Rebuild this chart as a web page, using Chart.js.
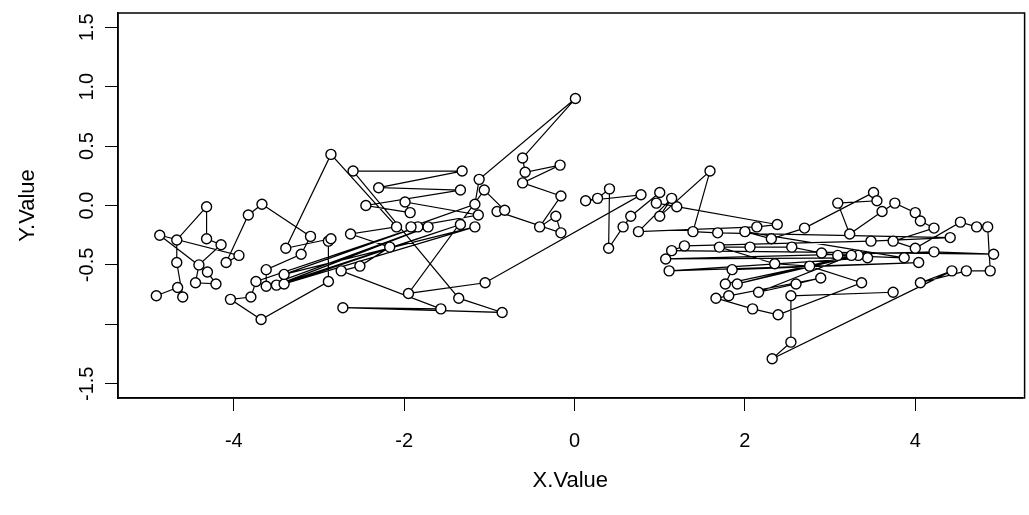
<!DOCTYPE html>
<html>
<head>
<meta charset="utf-8">
<script src="https://cdn.jsdelivr.net/npm/chart.js@4/dist/chart.umd.min.js"></script>
<style>
  html, body { margin: 0; padding: 0; background: #fff; }
  canvas { display: block; }
</style>
</head>
<body>
<canvas id="plot" width="1029" height="515"></canvas>
<script>
// values in the order they were plotted (lines join consecutive points)
const xValues = [
  -4.91, -4.66, -4.60, -4.67, -4.67, -4.32, -4.32, -4.15, -4.41, -4.45,
  -4.21, -4.31, -4.87, -3.94, -4.09, -3.83, -3.67, -3.10, -3.21, -3.62,
  -3.62, -1.72, -3.50, -1.34, -3.41, -1.17, -3.41, -1.84, -3.74, -3.80,
  -4.04, -3.68, -2.89, -2.89, -2.86, -3.39, -2.86, -2.09, -2.63, -2.17,
  -2.52, -2.74, -1.57, -2.72, -0.85, -1.36, -2.60, -1.32, -2.30, -1.34,
  -2.45, -1.93, -1.99, -1.13, -1.92, -1.17, -1.12, 0.01, -0.61, -0.58,
  -0.17, -0.61, -0.16, -0.41, -0.22, -0.16, -0.91, -0.82, -1.06, -1.95,
  -1.05,
  0.78, 0.13, 0.27, 0.41, 0.40, 0.57, 0.66, 1.00, 0.96, 1.20,
  2.38, 2.14, 0.75, 1.14, 1.00, 1.59, 1.39, 1.68, 4.41, 3.48,
  1.29, 1.14, 4.92, 4.22, 1.07, 3.44, 1.11, 4.04, 1.85, 1.77,
  3.33, 1.91, 3.25, 2.16, 2.60, 2.89, 1.81, 1.66, 2.09, 2.39,
  3.37, 2.76, 2.35, 1.70, 2.06, 2.55, 2.90, 3.09, 3.87, 2.00,
  2.31, 2.70, 3.51, 3.55, 3.09, 3.23, 3.61, 3.76, 4.00, 4.06,
  4.22, 3.74, 4.00, 4.53, 4.72, 4.85, 4.88, 4.60, 4.06, 4.43,
  2.32, 2.54, 2.54, 3.74
];
const yValues = [
  -0.76, -0.69, -0.77, -0.48, -0.29, -0.01, -0.28, -0.33, -0.50, -0.65,
  -0.66, -0.56, -0.25, -0.42, -0.48, -0.08, 0.01, -0.26, -0.41, -0.54,
  -0.68, -0.18, -0.67, -0.16, -0.66, -0.18, -0.58, -0.18, -0.64, -0.77,
  -0.79, -0.96, -0.64, -0.30, -0.28, -0.36, 0.43, -0.18, -0.24, -0.35,
  -0.51, -0.55, -0.87, -0.86, -0.90, -0.78, 0.29, 0.29, 0.15, 0.13,
  0.00, -0.06, 0.03, -0.08, -0.18, 0.01, 0.22, 0.90, 0.40, 0.28,
  0.34, 0.19, 0.08, -0.18, -0.09, -0.23, -0.05, -0.04, 0.13, -0.74,
  -0.65,
  0.09, 0.04, 0.06, 0.14, -0.36, -0.18, -0.09, 0.11, 0.02, -0.01,
  -0.16, -0.18, -0.22, 0.06, -0.09, 0.29, -0.22, -0.23, -0.27, -0.30,
  -0.34, -0.38, -0.41, -0.39, -0.45, -0.44, -0.55, -0.48, -0.54, -0.66,
  -0.42, -0.66, -0.42, -0.73, -0.66, -0.61, -0.76, -0.78, -0.87, -0.92,
  -0.65, -0.51, -0.49, -0.35, -0.35, -0.35, -0.40, -0.42, -0.44, -0.22,
  -0.28, -0.19, 0.11, 0.04, 0.02, -0.24, -0.05, 0.02, -0.06, -0.13,
  -0.19, -0.30, -0.36, -0.14, -0.18, -0.18, -0.55, -0.55, -0.65, -0.55,
  -1.29, -1.15, -0.76, -0.73
];
const xTicks = [-4, -2, 0, 2, 4];
const yTicks = [-1.5, -1.0, -0.5, 0.0, 0.5, 1.0, 1.5];
const yHidden = [-1.0]; // R dropped this label

const points = xValues.map((x, i) => ({ x: x, y: yValues[i] }));

const fontFamily = '"Liberation Sans", Arial, sans-serif';

// frame round the plot region, like R's box()
const boxPlugin = {
    id: 'box',
    afterDraw(chart) {
        const a = chart.chartArea;
        const ctx = chart.ctx;
        ctx.save();
        ctx.strokeStyle = '#000';
        ctx.lineWidth = 1.5;
        ctx.strokeRect(a.left, a.top, a.right - a.left + 2, a.bottom - a.top);
        ctx.restore();
    }
};

new Chart(document.getElementById('plot'), {
    type: 'scatter',
    data: {
        datasets: [{
            data: points,
            showLine: true,
            borderColor: '#000',
            borderWidth: 1.2,
            pointRadius: 5,
            pointBorderWidth: 1.4,
            pointBorderColor: '#000',
            pointBackgroundColor: '#fff'
        }]
    },
    options: {
        responsive: false,
        animation: false,
        devicePixelRatio: 1,
        layout: { padding: { top: 13, right: 0, left: 0, bottom: 0 } },
        plugins: { legend: { display: false }, tooltip: { enabled: false } },
        scales: {
            x: {
                type: 'linear',
                min: -5.36,
                max: 5.26,
                afterBuildTicks: (scale) => { scale.ticks = xTicks.map(v => ({ value: v })); },
                afterFit: (scale) => { scale.height = 117; },
                grid: { drawOnChartArea: false, drawTicks: true, tickLength: 13, tickColor: '#000' },
                border: { display: true, color: '#000', width: 1.5 },
                ticks: {
                    color: '#000',
                    padding: 18,
                    font: { family: fontFamily, size: 20 },
                    maxRotation: 0,
                    callback: (v) => String(v)
                },
                title: {
                    display: true,
                    text: 'X.Value',
                    color: '#000',
                    font: { family: fontFamily, size: 22 },
                    padding: { top: 0, bottom: 21 }
                }
            },
            y: {
                type: 'linear',
                min: -1.62,
                max: 1.62,
                afterBuildTicks: (scale) => { scale.ticks = yTicks.map(v => ({ value: v })); },
                afterFit: (scale) => { scale.width = 118; },
                grid: { drawOnChartArea: false, drawTicks: true, tickLength: 13, tickColor: '#000' },
                border: { display: true, color: '#000', width: 1.5 },
                ticks: {
                    color: '#000',
                    padding: 0,
                    minRotation: 90,
                    maxRotation: 90,
                    crossAlign: 'center',
                    font: { family: fontFamily, size: 20 },
                    callback: (v) => yHidden.includes(v) ? '' : v.toFixed(1)
                },
                title: {
                    display: true,
                    text: 'Y.Value',
                    color: '#000',
                    font: { family: fontFamily, size: 22 },
                    padding: { top: 15, bottom: 0 }
                }
            }
        }
    },
    plugins: [boxPlugin]
});
</script>
</body>
</html>
